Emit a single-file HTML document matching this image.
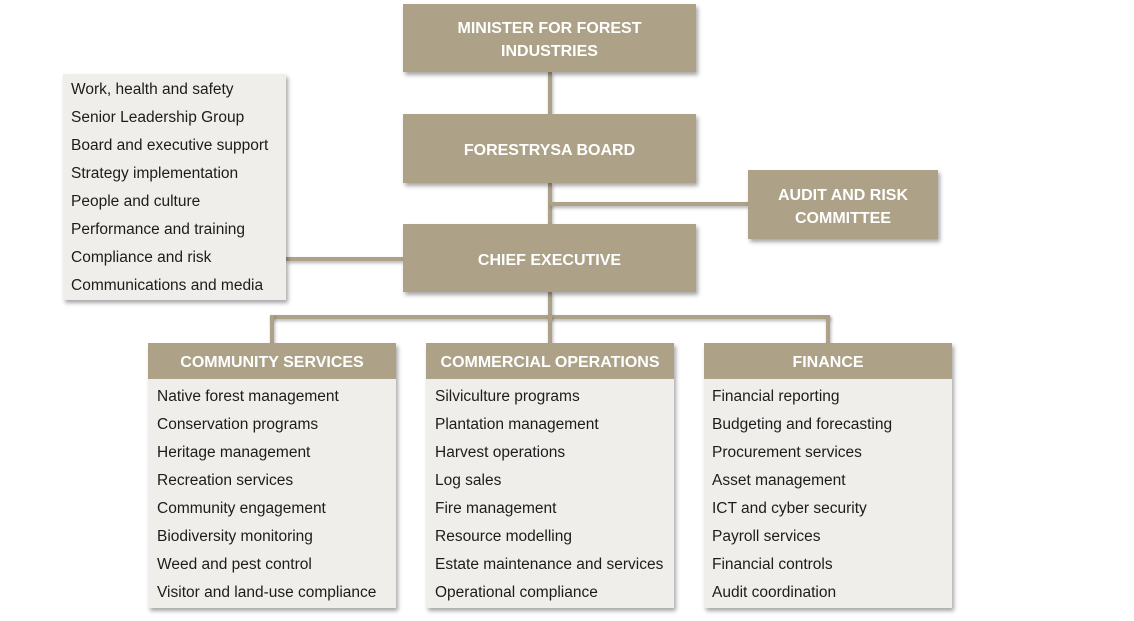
<!DOCTYPE html>
<html>
<head>
<meta charset="utf-8">
<style>
  html,body{margin:0;padding:0;background:#fff;}
  body{width:1134px;height:621px;position:relative;overflow:hidden;font-family:"Liberation Sans",Arial,sans-serif;}
  .box{position:absolute;background:#ada288;color:#fff;font-weight:bold;font-size:16px;text-align:center;
       box-shadow:2px 3px 4px rgba(0,0,0,0.35);display:flex;align-items:center;justify-content:center;line-height:23px;
       box-sizing:border-box;padding-top:4px;}
  .ln{position:absolute;background:#ada288;box-shadow:1px 2px 3px rgba(0,0,0,0.3);}
  .list{position:absolute;background:#efeeea;box-shadow:2px 3px 4px rgba(0,0,0,0.35);color:#1c1c1c;font-size:15.5px;}
  .list div{height:28px;line-height:28px;white-space:nowrap;}
  .col{position:absolute;width:248px;top:343px;height:265px;background:#efeeea;box-shadow:2px 3px 4px rgba(0,0,0,0.35);}
  .col .hd{height:36px;background:#ada288;color:#fff;font-weight:bold;font-size:16px;line-height:39px;text-align:center;white-space:nowrap;}
  .col .items{padding-top:4px;padding-left:9px;color:#1c1c1c;font-size:15.5px;}
  .col .items div{height:28px;line-height:28px;white-space:nowrap;}
</style>
</head>
<body>
  <!-- connectors -->
  <div class="ln" style="left:548px;top:72px;width:4px;height:42px;"></div>
  <div class="ln" style="left:548px;top:183px;width:4px;height:41px;"></div>
  <div class="ln" style="left:550px;top:202px;width:198px;height:4px;"></div>
  <div class="ln" style="left:286px;top:257px;width:117px;height:4px;"></div>
  <div class="ln" style="left:548px;top:292px;width:4px;height:25px;"></div>
  <div class="ln" style="left:270px;top:315px;width:560px;height:4px;"></div>
  <div class="ln" style="left:270px;top:315px;width:4px;height:28px;"></div>
  <div class="ln" style="left:548px;top:315px;width:4px;height:28px;"></div>
  <div class="ln" style="left:826px;top:315px;width:4px;height:28px;"></div>

  <!-- top boxes -->
  <div class="box" style="left:403px;top:4px;width:293px;height:68px;">MINISTER FOR FOREST<br>INDUSTRIES</div>
  <div class="box" style="left:403px;top:114px;width:293px;height:69px;">FORESTRYSA BOARD</div>
  <div class="box" style="left:748px;top:170px;width:190px;height:69px;">AUDIT AND RISK<br>COMMITTEE</div>
  <div class="box" style="left:403px;top:224px;width:293px;height:68px;">CHIEF EXECUTIVE</div>

  <!-- left list -->
  <div class="list" style="left:63px;top:74px;width:223px;height:226px;">
    <div style="padding-left:8px;padding-top:2px;height:auto;">
      <div>Work, health and safety</div>
      <div>Senior Leadership Group</div>
      <div>Board and executive support</div>
      <div>Strategy implementation</div>
      <div>People and culture</div>
      <div>Performance and training</div>
      <div>Compliance and risk</div>
      <div>Communications and media</div>
    </div>
  </div>

  <!-- columns -->
  <div class="col" style="left:148px;">
    <div class="hd">COMMUNITY SERVICES</div>
    <div class="items">
      <div>Native forest management</div>
      <div>Conservation programs</div>
      <div>Heritage management</div>
      <div>Recreation services</div>
      <div>Community engagement</div>
      <div>Biodiversity monitoring</div>
      <div>Weed and pest control</div>
      <div>Visitor and land-use compliance</div>
    </div>
  </div>
  <div class="col" style="left:426px;">
    <div class="hd">COMMERCIAL OPERATIONS</div>
    <div class="items">
      <div>Silviculture programs</div>
      <div>Plantation management</div>
      <div>Harvest operations</div>
      <div>Log sales</div>
      <div>Fire management</div>
      <div>Resource modelling</div>
      <div>Estate maintenance and services</div>
      <div>Operational compliance</div>
    </div>
  </div>
  <div class="col" style="left:704px;">
    <div class="hd">FINANCE</div>
    <div class="items" style="padding-left:8px;">
      <div>Financial reporting</div>
      <div>Budgeting and forecasting</div>
      <div>Procurement services</div>
      <div>Asset management</div>
      <div>ICT and cyber security</div>
      <div>Payroll services</div>
      <div>Financial controls</div>
      <div>Audit coordination</div>
    </div>
  </div>
</body>
</html>
